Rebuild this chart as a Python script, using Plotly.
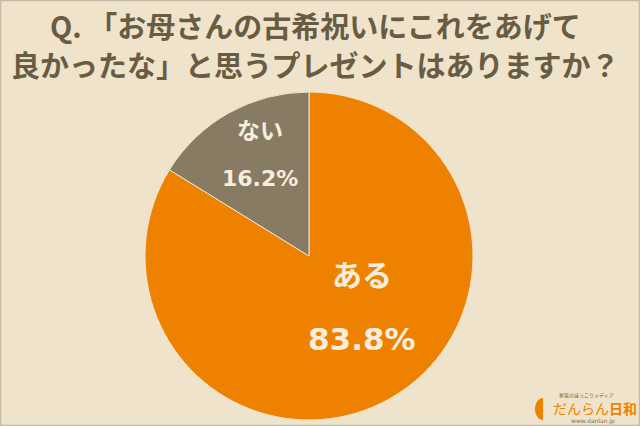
import numpy as np
import plotly.graph_objects as go

# ---- data ----
categories = ["ある", "ない"]
values = [83.8, 16.2]
pct_labels = ["83.8%", "16.2%"]
colors = ["#EE8200", "#877B64"]
title_lines = ["Q. 「お母さんの古希祝いにこれをあげて", "良かったな」と思うプレゼントはありますか？"]

W, H = 640, 426
BG = "#EFE4CB"
TXT = "#6A5C43"
CREAM = "#F7EDDC"

fig = go.Figure()
cx, cy, r = 309, 256, 164
fig.add_trace(go.Pie(
    labels=categories, values=values, sort=False, direction="clockwise", rotation=0,
    marker=dict(colors=colors, line=dict(color=BG, width=1)),
    textinfo="none", hoverinfo="label+percent", showlegend=False,
    domain=dict(x=[(cx - r) / W, (cx + r) / W], y=[(H - cy - r) / H, (H - cy + r) / H]),
))

def px(x, y):
    return x / W, 1 - y / H

ann = []
# title
for line, yy in zip(title_lines, [25, 64]):
    xx, yp = px(315, yy)
    ann.append(dict(text=line, x=xx, y=yp, xref="paper", yref="paper", showarrow=False,
                    xanchor="center", yanchor="middle", borderpad=0,
                    font=dict(family="Noto Sans CJK JP", size=29, color=TXT, weight="bold")))

# slice labels
lab_pos = {"ある": [(362, 275, 30), (362, 339, 31)], "ない": [(260, 131, 23), (260, 178, 22)]}
for cat, p in zip(categories, pct_labels):
    (x1, y1, s1), (x2, y2, s2) = lab_pos[cat]
    for t, xx, yy, ss in [(cat, x1, y1, s1), (p, x2, y2, s2)]:
        a, b = px(xx, yy)
        ann.append(dict(text=t, x=a, y=b, xref="paper", yref="paper", showarrow=False,
                        xanchor="center", yanchor="middle",
                        font=dict(family="DejaVu Sans, Noto Sans CJK JP", size=ss, color=CREAM, weight="bold")))

# logo texts
for t, xx, yy, ss, col, fam in [
    ("家族のほっこりメディア", 586, 394.5, 5, "#6A5C43", "Noto Sans CJK JP"),
    ("だんらん<b>日和</b>", 595, 408, 14, "#EE8200", "Noto Sans CJK JP"),
    ("www.danlan.jp", 593, 421, 6, "#7A6E58", "DejaVu Sans"),
]:
    a, b = px(xx, yy)
    ann.append(dict(text=t, x=a, y=b, xref="paper", yref="paper", showarrow=False, borderpad=0,
                    xanchor="center", yanchor="middle", font=dict(family=fam, size=ss, color=col)))

# logo half ellipse
th = np.linspace(np.pi / 2, 3 * np.pi / 2, 40)
pts = [px(543 + 8 * np.cos(t), 409 - 11 * np.sin(t)) for t in th]
path = "M " + " L ".join(f"{a:.5f},{b:.5f}" for a, b in pts) + " Z"

shapes = [
    dict(type="path", path=path, xref="paper", yref="paper", fillcolor="#EE8200", line=dict(width=0)),
    dict(type="rect", x0=0.5 / W, x1=1 - 0.5 / W, y0=0.5 / H, y1=1 - 0.5 / H, xref="paper", yref="paper",
         line=dict(color="#C4BBA4", width=1.5), fillcolor="rgba(0,0,0,0)"),
]

fig.update_layout(
    width=W, height=H, margin=dict(l=0, r=0, t=0, b=0),
    paper_bgcolor=BG, plot_bgcolor=BG,
    annotations=ann, shapes=shapes,
)
fig.write_html("out.html", config={"displayModeBar": False},
               post_script="document.body.style.margin='0';document.body.style.background='" + BG + "';")
